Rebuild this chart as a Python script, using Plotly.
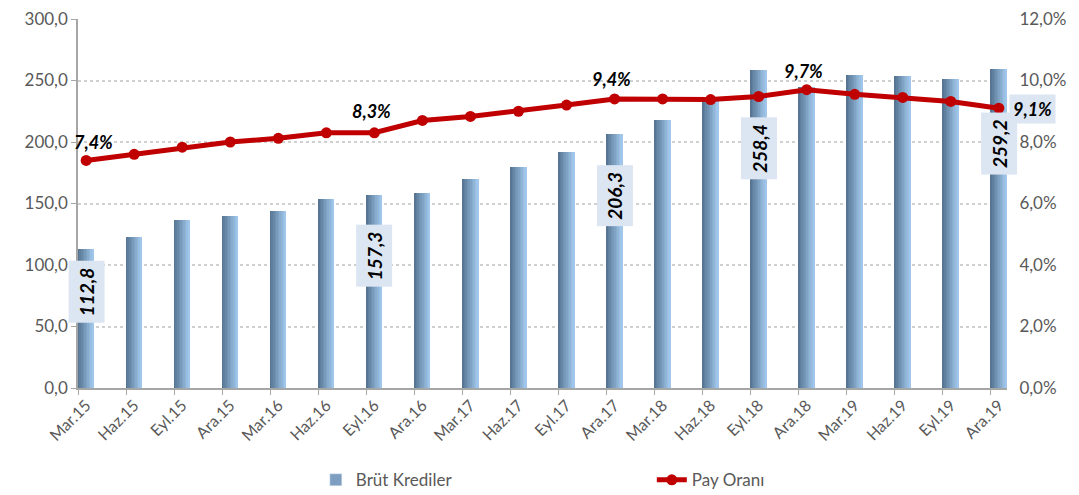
import plotly.graph_objects as go

categories = ["Mar.15", "Haz.15", "Eyl.15", "Ara.15", "Mar.16", "Haz.16", "Eyl.16", "Ara.16",
              "Mar.17", "Haz.17", "Eyl.17", "Ara.17", "Mar.18", "Haz.18", "Eyl.18", "Ara.18",
              "Mar.19", "Haz.19", "Eyl.19", "Ara.19"]
brut_krediler = [112.8, 123.0, 136.5, 140.0, 144.0, 154.0, 157.3, 158.5,
                 170.0, 180.0, 192.0, 206.3, 217.5, 233.0, 258.4, 245.0,
                 254.5, 254.0, 251.5, 259.2]
pay_orani = [7.4, 7.6, 7.83, 8.0, 8.12, 8.3, 8.3, 8.7,
             8.83, 9.0, 9.2, 9.4, 9.4, 9.38, 9.48, 9.7,
             9.55, 9.45, 9.32, 9.1]

x = list(range(len(categories)))
FONT = "Lato, 'Open Sans', sans-serif"
GRAY = "#595959"

fig = go.Figure()

# gradient bars built from narrow strips
N = 10
W = 0.33
c0 = (88, 118, 148)
c1 = (160, 199, 235)
for k in range(N):
    t = k / (N - 1)
    col = "rgb(%d,%d,%d)" % tuple(int(c0[i] + (c1[i] - c0[i]) * t) for i in range(3))
    fig.add_trace(go.Bar(
        x=x, y=brut_krediler, width=W / N + 0.003, offset=-W / 2 + k * W / N,
        marker=dict(color=col, line=dict(width=0)),
        showlegend=False, hoverinfo="skip", yaxis="y"))

# legend entry for bars
fig.add_trace(go.Bar(x=[None], y=[None], name="Brüt Krediler",
                     marker=dict(color="#7d9ec0"), showlegend=True))

fig.add_trace(go.Scatter(
    x=x, y=[v / 100 for v in pay_orani], name="Pay Oranı", yaxis="y2",
    mode="lines+markers", line=dict(color="#c00000", width=5),
    marker=dict(color="#c00000", size=11)))

annotations = []
bar_label_pos = {0: 78, 6: 107.5, 11: 156, 14: 195, 19: 199}
for i, yc in bar_label_pos.items():
    annotations.append(dict(
        x=x[i], y=yc, xref="x", yref="y", showarrow=False,
        text=("%.1f" % brut_krediler[i]).replace(".", ","), textangle=-90,
        font=dict(family=FONT, size=19, color="black", weight="bold", style="italic"),
        bgcolor="#dce6f2", borderpad=6))

pct_labels = {0: (7, 18), 6: (-3, 22), 11: (-3, 20), 15: (-3, 19)}
for i, (dx, dy) in pct_labels.items():
    annotations.append(dict(
        x=x[i], y=pay_orani[i] / 100, xref="x", yref="y2", showarrow=False,
        text=("%.1f%%" % pay_orani[i]).replace(".", ","), xshift=dx, yshift=dy,
        font=dict(family=FONT, size=18, color="black", weight="bold", style="italic")))
annotations.append(dict(
    x=x[19], y=pay_orani[19] / 100, xref="x", yref="y2", showarrow=False,
    text=("%.1f%%" % pay_orani[19]).replace(".", ","), xanchor="left", xshift=10, yshift=-1,
    font=dict(family=FONT, size=18, color="black", weight="bold", style="italic"),
    bgcolor="#dce6f2", borderpad=3))

# page body has an 8px margin, so the figure is drawn 8px smaller
fig.update_layout(
    width=1071, height=487,
    margin=dict(l=70, r=72, t=11, b=107, autoexpand=False),
    paper_bgcolor="white", plot_bgcolor="white",
    separators=",.",
    barmode="overlay", bargap=0,
    font=dict(family=FONT, size=17, color=GRAY),
    xaxis=dict(
        range=[-0.17, 19.17], tickmode="array", tickvals=x, ticktext=categories,
        tickangle=-45, ticks="", showgrid=False, zeroline=False, automargin=False,
        showline=True, linecolor="#a6a6a6", linewidth=1.5, ticklabeloverflow="allow",
        minor=dict(ticks="outside", tick0=-0.17, dtick=1, ticklen=5,
                   tickcolor="#a6a6a6", showgrid=False),
        tickfont=dict(size=16, color=GRAY)),
    yaxis=dict(
        range=[0, 300], dtick=50, tickformat=".1f", showgrid=True, automargin=False,
        gridcolor="#d0d0d0", griddash="dot", gridwidth=1.5, zeroline=False,
        showline=True, linecolor="#a6a6a6", linewidth=1.5, ticklabeloverflow="allow",
        ticks="outside", ticklen=5, tickcolor="#a6a6a6",
        tickfont=dict(size=17, color=GRAY)),
    yaxis2=dict(
        range=[0, 0.12], dtick=0.02, tickformat=".1%", overlaying="y", side="right",
        showgrid=False, zeroline=False, showline=False, automargin=False,
        ticklabeloverflow="allow",
        ticks="outside", ticklen=8, tickcolor="rgba(0,0,0,0)",
        tickfont=dict(size=17, color=GRAY)),
    legend=dict(orientation="h", x=0.256, xanchor="left", y=-0.25, yanchor="middle",
                entrywidth=291, entrywidthmode="pixels",
                font=dict(size=17, color=GRAY), traceorder="normal"),
    annotations=annotations,
)

fig.write_html("out.html")
